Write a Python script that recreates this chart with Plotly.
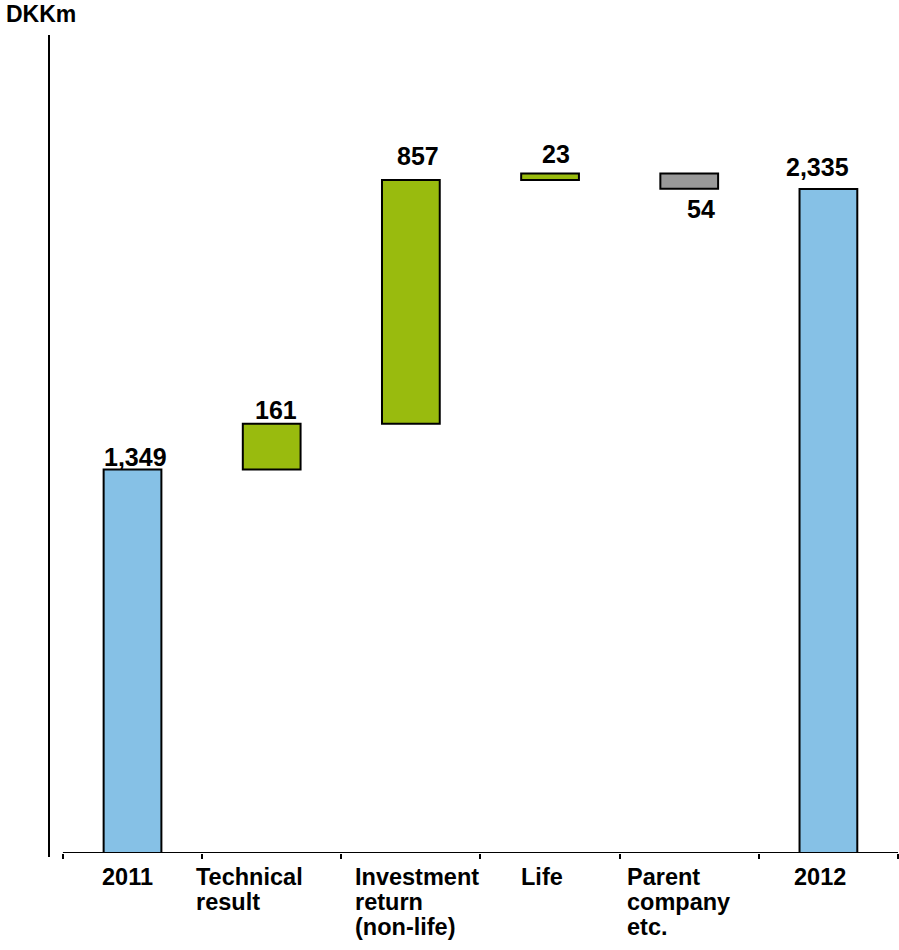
import plotly.graph_objects as go

# Profit bridge 2011 -> 2012, DKKm
categories = ["2011", "Technical result", "Investment return (non-life)", "Life",
              "Parent company etc.", "2012"]
axis_labels = [["2011"], ["Technical", "result"], ["Investment", "return", "(non-life)"],
               ["Life"], ["Parent", "company", "etc."], ["2012"]]
values = [1349, 161, 857, 23, -54, 2335]
measures = ["absolute", "relative", "relative", "relative", "relative", "absolute"]
value_text = ["1,349", "161", "857", "23", "54", "2,335"]

BLUE = "#86C1E6"
GREEN = "#99BB0E"
GREY = "#999999"
FONT = "Liberation Sans, Arial, sans-serif"

# label placement tweaks (pixels): horizontal shift, vertical gap from bar edge
val_dx = [3, 4, 7, 6, 12, -11]
val_gap = [2, 4, 14, 9, 8, 12]
cat_dx = [-33, -78, -58, -31, -64, -36]

# build floating bars: each bar spans [base, base + length]
bases, lengths, colors = [], [], []
level = 0
for v, m in zip(values, measures):
    if m == "absolute":
        bases.append(0)
        lengths.append(v)
        colors.append(BLUE)
        level = v
    else:
        start = level
        level = level + v
        bases.append(min(start, level))
        lengths.append(abs(v))
        colors.append(GREEN if v >= 0 else GREY)

idx = list(range(len(categories)))

fig = go.Figure(go.Bar(
    x=idx,
    y=lengths,
    base=bases,
    width=0.415,
    marker=dict(color=colors, line=dict(color="black", width=2)),
    customdata=categories,
    hovertemplate="%{customdata}: %{y}<extra></extra>",
))

annotations = []
for i in idx:
    top, bottom = bases[i] + lengths[i], bases[i]
    if values[i] >= 0:
        annotations.append(dict(x=i, y=top, xref="x", yref="y", text=value_text[i],
                                showarrow=False, yanchor="bottom", xshift=val_dx[i],
                                yshift=val_gap[i] - 6,
                                font=dict(family=FONT, size=25, color="black", weight="bold")))
    else:
        annotations.append(dict(x=i, y=bottom, xref="x", yref="y", text=value_text[i],
                                showarrow=False, yanchor="top", xshift=val_dx[i],
                                yshift=-val_gap[i] + 4,
                                font=dict(family=FONT, size=25, color="black", weight="bold")))

# category labels, left aligned lines
for i, lines in zip(idx, axis_labels):
    for j, line in enumerate(lines):
        annotations.append(dict(x=i, y=0, xref="x", yref="paper", text=line,
                                showarrow=False, xanchor="left", yanchor="top",
                                xshift=cat_dx[i], yshift=-9 - 25 * j,
                                font=dict(family=FONT, size=23.5, color="black", weight="bold")))

annotations.append(dict(x=0, y=1, xref="paper", yref="paper", text="DKKm",
                        showarrow=False, xanchor="left", yanchor="bottom",
                        xshift=-45, yshift=6,
                        font=dict(family=FONT, size=23, color="black", weight="bold")))

n = len(categories)
shapes = [
    # baseline
    dict(type="line", xref="x", yref="y", x0=-0.5, x1=n - 0.5, y0=0, y1=0,
         line=dict(color="black", width=2)),
    # value axis line
    dict(type="line", xref="paper", yref="paper", x0=0, x1=0, y0=-0.005, y1=1,
         line=dict(color="black", width=2)),
]

fig.update_layout(
    width=899, height=950,
    margin=dict(l=49, r=1, t=35, b=97),
    paper_bgcolor="white", plot_bgcolor="white",
    showlegend=False,
    annotations=annotations,
    shapes=shapes,
    xaxis=dict(range=[-0.6, n - 0.5], tickvals=[k - 0.5 for k in range(n + 1)],
               ticks="outside", ticklen=5, tickwidth=2, tickcolor="black",
               showticklabels=False, showline=False, showgrid=False,
               zeroline=False, fixedrange=True),
    yaxis=dict(range=[0, 2877], showticklabels=False, showgrid=False,
               zeroline=False, showline=False, ticks="", fixedrange=True),
)

fig.write_html("out.html")
